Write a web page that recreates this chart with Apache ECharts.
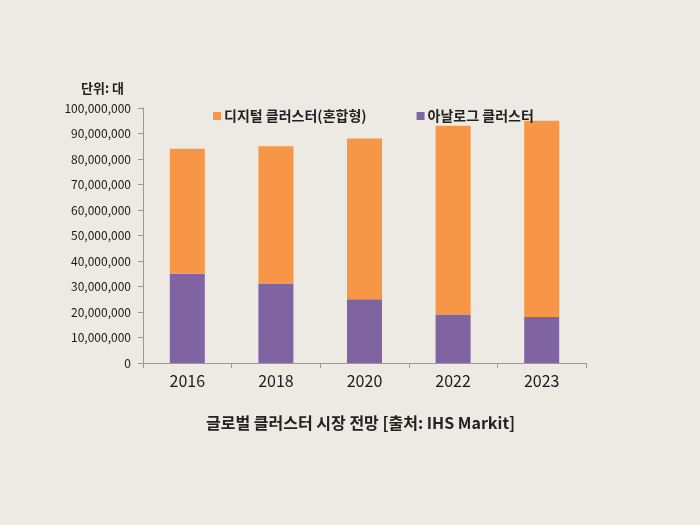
<!DOCTYPE html>
<html><head><meta charset="utf-8">
<script src="https://cdn.jsdelivr.net/npm/echarts@6/dist/echarts.min.js"></script>
<style>html,body{margin:0;padding:0;background:#ECEAE2;}#c{width:700px;height:525px;}</style>
</head><body><div id="c"></div>
<script>
const categories = ['2016','2018','2020','2022','2023'];
const analog = [35000000, 31000000, 25000000, 19000000, 18000000];
const digital = [49000000, 54000000, 63000000, 74000000, 77000000];
const seriesNames = ['디지털 클러스터(혼합형)', '아날로그 클러스터'];
const unitLabel = '단위: 대';
const titleText = '글로벌 클러스터 시장 전망 [출처: IHS Markit]';

const F = '"Noto Sans CJK KR", "Open Sans", sans-serif';
const chart = echarts.init(document.getElementById('c'));
chart.setOption({
  backgroundColor: '#ECEAE2',
  animation: false,
  title: [
    {text: unitLabel, left: 76, top: 77, textStyle: {fontFamily: F, fontSize: 13, fontWeight: 'bold', color: '#222'}},
    {text: titleText, left: 201, top: 410, textStyle: {fontFamily: F, fontSize: 16, fontWeight: 'bold', color: '#222'}}
  ],
  legend: {
    top: 104, left: 208, itemWidth: 8, itemHeight: 8, itemGap: 50,
    icon: 'rect',
    textStyle: {fontFamily: F, fontSize: 14, fontWeight: 'bold', color: '#222', padding: [0,0,0,-2]},
    data: [seriesNames[0], seriesNames[1]]
  },
  grid: {left: 143, right: 114, top: 108, bottom: 162},
  xAxis: {
    type: 'category', data: categories,
    axisLine: {lineStyle: {color: '#9a9a9a'}},
    axisTick: {show: true, length: 5, lineStyle: {color: '#9a9a9a'}},
    axisLabel: {fontFamily: F, fontSize: 16, color: '#1a1a1a', margin: 10}
  },
  yAxis: {
    type: 'value', min: 0, max: 100000000, interval: 10000000,
    axisLine: {show: true, lineStyle: {color: '#9a9a9a'}},
    axisTick: {show: true, length: 5, lineStyle: {color: '#9a9a9a'}},
    splitLine: {show: false},
    axisLabel: {fontFamily: F, fontSize: 12, color: '#1a1a1a', margin: 12,
      formatter: v => v.toLocaleString('en-US')}
  },
  series: [
    {name: seriesNames[1], type: 'bar', stack: 't', data: analog, barWidth: 35, itemStyle: {color: '#8064A2'}},
    {name: seriesNames[0], type: 'bar', stack: 't', data: digital, barWidth: 35, itemStyle: {color: '#F79646'}}
  ]
});
</script></body></html>
